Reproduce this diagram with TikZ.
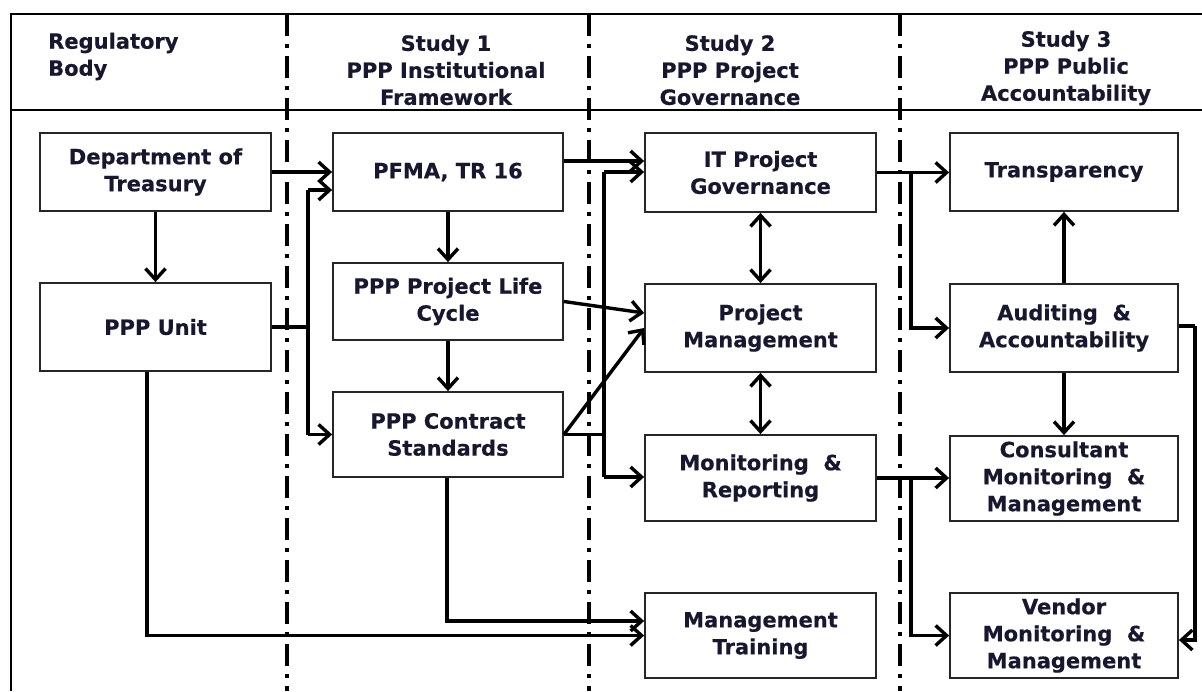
\documentclass[tikz,border=0pt]{standalone}
\usepackage{fontspec}
\setmainfont{DejaVu Sans}[BoldFeatures={FakeBold=0.4}]
\usetikzlibrary{arrows.meta}
\definecolor{ink}{HTML}{17172F}
\begin{document}
\begin{tikzpicture}[x=1pt,y=-1pt,
  lbl/.style={font=\bfseries\fontsize{21}{27}\selectfont, text=ink, inner sep=0pt},
  box/.style={lbl, draw=black!85, line width=1.8pt, minimum width=231pt, align=center},
  frame/.style={draw=black, line width=2.2pt},
  sep/.style={draw=black, line width=4.5pt, dash pattern=on 22pt off 8pt on 4pt off 8pt},
  conn/.style={draw=black, line width=3.4pt},
  tip/.tip={Straight Barb[length=11pt,width=20pt]},
  arr/.style={conn, -tip},
  darr/.style={conn, tip-tip}]
\useasboundingbox (0,0) rectangle (1202,691);

% outer frame and header rule
\draw[frame] (1202,14) -- (11,14) -- (11,691);
\draw[frame] (11,110) -- (1202,110);

% column separators
\draw[sep] (287,14) -- (287,691);
\draw[sep] (589,14) -- (589,691);
\draw[sep] (900,14) -- (900,691);

% column headings
\node[lbl, align=left, anchor=west] (h0) at (48,56.5) {Regulatory\\Body};
\node[lbl, align=center] (h1) at (446,70) {Study 1\\PPP Institutional\\Framework};
\node[lbl, align=center] (h2) at (730,70) {Study 2\\PPP Project\\Governance};
\node[lbl, align=center] (h3) at (1066,68) {Study 3\\PPP Public\\Accountability};

% regulatory body
\node[box, minimum height=78pt] (dept) at (155.5,172) {Department of\\Treasury};
\node[box, minimum height=88pt] (unit) at (155.5,327) {PPP Unit};

% study 1
\node[box, minimum width=230pt, minimum height=78pt] (pfma) at (448,172) {PFMA, TR 16};
\node[box, minimum width=230pt, minimum height=77pt] (life) at (448,301.5) {PPP Project Life\\Cycle};
\node[box, minimum width=230pt, minimum height=85pt] (contract) at (448,434.5) {PPP Contract\\Standards};

% study 2
\node[box, minimum height=79pt] (it) at (760.5,172.5) {IT Project\\Governance};
\node[box, minimum height=88pt] (pm) at (760.5,328) {Project\\Management};
\node[box, minimum height=86pt] (mon) at (760.5,478) {Monitoring \ \&\\Reporting};
\node[box, minimum height=85pt] (train) at (760.5,635.5) {Management\\Training};

% study 3
\node[box, minimum width=228pt, minimum height=78pt] (transp) at (1064,172) {Transparency};
\node[box, minimum width=228pt, minimum height=88pt] (audit) at (1064,328) {Auditing \ \&\\Accountability};
\node[box, minimum width=228pt, minimum height=85pt] (cons) at (1064,478.5) {Consultant\\Monitoring \ \&\\Management};
\node[box, minimum width=228pt, minimum height=85pt] (vend) at (1064,635.5) {Vendor\\Monitoring \ \&\\Management};

% junction points of the branching connectors
\coordinate (ja) at (308,190);
\coordinate (jb) at (308,434.5);
\coordinate (jc) at (604,172);
\coordinate (jd) at (604,477);
\coordinate (je) at (911,172.5);
\coordinate (jf) at (911,478);
\coordinate (jg) at (1195,326);

% regulatory body links
\draw[arr] (dept.south) -- (unit.north);
\draw[arr] (dept.east) -- (pfma.west);
\draw[conn] (unit.east) -- (unit.east -| ja);
\draw[conn] (ja) -- (jb);
\draw[arr] (ja) -- (ja -| pfma.west);
\draw[arr] (jb) -- (contract.west);
\draw[arr] ([xshift=-8.5pt]unit.south) |- (train.west);

% study 1 links
\draw[arr] (pfma.south) -- (life.north);
\draw[arr] (life.south) -- (contract.north);
\draw[arr] ([yshift=11pt]pfma.east) -- ([yshift=11pt]pfma.east -| it.west);
\draw[arr] (life.east) -- ([yshift=15pt]pm.west);
\draw[arr] (contract.east) -- (pm.west);
\draw[conn] (contract.east) -- (contract.east -| jc);
\draw[conn] (jc) -- (jd);
\draw[arr] (jc) -- (jc -| it.west);
\draw[arr] (jd) -- (jd -| mon.west);
\draw[arr] ([xshift=-1pt]contract.south) |- ([yshift=14.5pt]train.west);

% study 2 links
\draw[darr] (it.south) -- (pm.north);
\draw[darr] (pm.south) -- (mon.north);
\draw[arr] (it.east) -- (it.east -| transp.west);
\draw[arr] (je) |- (audit.west);
\draw[arr] (mon.east) -- (mon.east -| cons.west);
\draw[arr] (jf) |- (vend.west);

% study 3 links
\draw[arr] (audit.north) -- (transp.south);
\draw[arr] (audit.south) -- (cons.north);
\draw[conn] ([yshift=2pt]audit.east) -- (jg);
\draw[arr] (jg) |- ([yshift=-4.5pt]vend.east);
\end{tikzpicture}
\end{document}
